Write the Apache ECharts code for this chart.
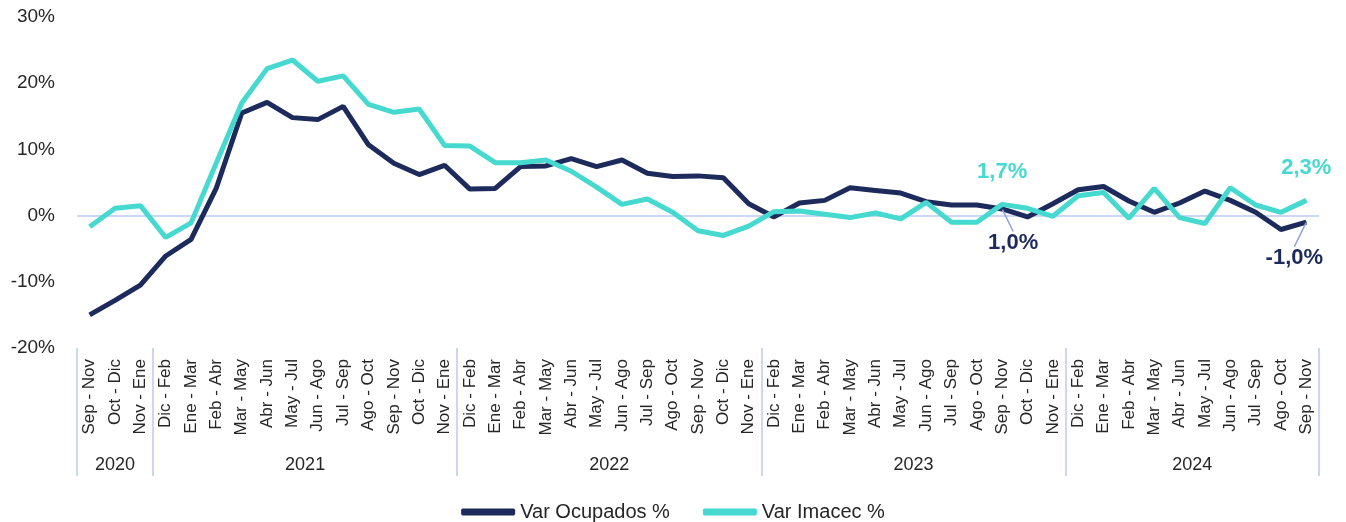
<!DOCTYPE html>
<html>
<head>
<meta charset="utf-8">
<title>Var Ocupados vs Var Imacec</title>
<script src="https://cdn.jsdelivr.net/npm/echarts@6/dist/echarts.min.js"></script>
<style>
    body { margin: 0; background: #fff; }
    #main { width: 1346px; height: 522px; }
</style>
</head>
<body>
<div id="main"></div>
<script>
// periodos móviles (trimestres)
var periods = [
    'Sep - Nov', 'Oct - Dic', 'Nov - Ene',
    'Dic - Feb', 'Ene - Mar', 'Feb - Abr', 'Mar - May', 'Abr - Jun', 'May - Jul',
    'Jun - Ago', 'Jul - Sep', 'Ago - Oct', 'Sep - Nov', 'Oct - Dic', 'Nov - Ene',
    'Dic - Feb', 'Ene - Mar', 'Feb - Abr', 'Mar - May', 'Abr - Jun', 'May - Jul',
    'Jun - Ago', 'Jul - Sep', 'Ago - Oct', 'Sep - Nov', 'Oct - Dic', 'Nov - Ene',
    'Dic - Feb', 'Ene - Mar', 'Feb - Abr', 'Mar - May', 'Abr - Jun', 'May - Jul',
    'Jun - Ago', 'Jul - Sep', 'Ago - Oct', 'Sep - Nov', 'Oct - Dic', 'Nov - Ene',
    'Dic - Feb', 'Ene - Mar', 'Feb - Abr', 'Mar - May', 'Abr - Jun', 'May - Jul',
    'Jun - Ago', 'Jul - Sep', 'Ago - Oct', 'Sep - Nov'
];
var years = ['2020', '2021', '2022', '2023', '2024'];
var yearCounts = [3, 12, 12, 12, 10];

var ocupados = [
    -15.0, -12.8, -10.5,
    -6.1, -3.6, 4.2, 15.5, 17.1, 14.8, 14.5, 16.5, 10.7, 7.9, 6.2, 7.6,
    4.0, 4.1, 7.4, 7.5, 8.6, 7.4, 8.4, 6.4, 5.9, 6.0, 5.7, 1.8,
    -0.2, 1.9, 2.3, 4.2, 3.8, 3.4, 2.1, 1.6, 1.6, 1.0, -0.2, 1.8,
    3.9, 4.4, 2.2, 0.5, 1.9, 3.7, 2.3, 0.5, -2.1, -1.0
];
var imacec = [
    -1.7, 1.1, 1.5,
    -3.3, -1.1, 8.0, 17.0, 22.2, 23.5, 20.3, 21.1, 16.8, 15.6, 16.1, 10.6,
    10.5, 8.0, 8.0, 8.4, 6.7, 4.3, 1.7, 2.5, 0.5, -2.3, -3.0, -1.6,
    0.6, 0.7, 0.2, -0.3, 0.4, -0.5, 2.0, -1.0, -1.0, 1.7, 1.1, -0.1,
    3.0, 3.5, -0.4, 4.1, -0.3, -1.2, 4.2, 1.6, 0.5, 2.3
];
var labelIdx = [36, 48];   // puntos con etiqueta

var yMin = -20, yMax = 30, yStep = 10;
var darkColor = '#1c2b5c', tealColor = '#45d9cf', sepColor = '#cdd6f2';
var fontFam = '"Liberation Sans", Arial, sans-serif';

// límites y centros de cada año (en índices de categoría)
var bounds = [-0.5], mids = [], acc = 0;
yearCounts.forEach(function (c) {
    mids.push(acc + (c - 1) / 2);
    acc += c;
    bounds.push(acc - 0.5);
});

function pct(v) {
    return v.toFixed(1).replace('.', ',') + '%';
}

// solo los puntos etiquetados llevan símbolo (invisible) para que se vea el label
function withLabels(values) {
    return values.map(function (v, i) {
        if (labelIdx.indexOf(i) < 0) return v;
        return { value: v, symbol: 'circle', symbolSize: 1, label: { show: true } };
    });
}

// desplazamiento de las etiquetas de Ocupados (tienen línea guía)
var darkShift = { 36: [11, 17], 48: [-12, 19] };

var myChart = echarts.init(document.getElementById('main'));

var option = {
    animation: false,
    textStyle: { fontFamily: fontFam },
    grid: { left: 77, right: 27, top: 17, bottom: 174 },
    legend: {
        top: 497,
        left: 'center',
        icon: 'roundRect',
        itemWidth: 54,
        itemHeight: 7,
        itemGap: 33,
        textStyle: { fontSize: 20, color: '#262626', fontFamily: fontFam },
        data: ['Var Ocupados %', 'Var Imacec %']
    },
    xAxis: [{
        type: 'category',
        data: periods,
        position: 'bottom',
        boundaryGap: true,
        axisLine: { show: false, onZero: false },
        axisTick: { show: false },
        axisLabel: {
            interval: 0,
            rotate: 90,
            margin: 11,
            fontSize: 17,
            color: '#262626',
            fontFamily: fontFam
        }
    }, {
        type: 'value',
        position: 'bottom',
        min: -0.5,
        max: periods.length - 0.5,
        splitLine: { show: false },
        axisLine: { show: false, onZero: false },
        axisTick: {
            show: true,
            customValues: bounds,
            length: 128,
            lineStyle: { color: sepColor, width: 2 }
        },
        axisLabel: {
            customValues: mids,
            margin: 108,
            fontSize: 18,
            color: '#262626',
            fontFamily: fontFam,
            formatter: function (v) {
                var k = mids.indexOf(v);
                return k >= 0 ? years[k] : '';
            }
        }
    }],
    yAxis: {
        type: 'value',
        min: yMin,
        max: yMax,
        interval: yStep,
        splitLine: { show: false },
        axisLine: { show: false },
        axisTick: { show: false },
        axisLabel: {
            formatter: '{value}%',
            fontSize: 19,
            margin: 22,
            color: '#262626',
            fontFamily: fontFam
        }
    },
    series: [{
        name: 'Var Ocupados %',
        type: 'line',
        xAxisIndex: 0,
        data: withLabels(ocupados),
        showSymbol: true,
        showAllSymbol: true,
        symbol: 'none',
        lineStyle: { width: 5, color: darkColor },
        itemStyle: { color: darkColor },
        label: {
            show: false,
            position: 'bottom',
            fontSize: 22,
            fontWeight: 'bold',
            color: darkColor,
            formatter: function (p) { return pct(p.value); }
        },
        labelLine: { show: true, lineStyle: { color: '#8fa2dc', width: 1.5 } },
        labelLayout: function (p) {
            var s = darkShift[p.dataIndex];
            return s ? { dx: s[0], dy: s[1] } : {};
        },
        // línea del cero, bajo las series
        markLine: {
            silent: true,
            z: 1,
            symbol: 'none',
            label: { show: false },
            lineStyle: { color: sepColor, width: 2, type: 'solid' },
            emphasis: { disabled: true },
            data: [{ yAxis: 0 }]
        }
    }, {
        name: 'Var Imacec %',
        type: 'line',
        xAxisIndex: 0,
        data: withLabels(imacec),
        showSymbol: true,
        showAllSymbol: true,
        symbol: 'none',
        lineStyle: { width: 5, color: tealColor },
        itemStyle: { color: tealColor },
        label: {
            show: false,
            position: 'top',
            distance: 21,
            fontSize: 22,
            fontWeight: 'bold',
            color: tealColor,
            formatter: function (p) { return pct(p.value); }
        }
    }]
};

myChart.setOption(option);
</script>
</body>
</html>
